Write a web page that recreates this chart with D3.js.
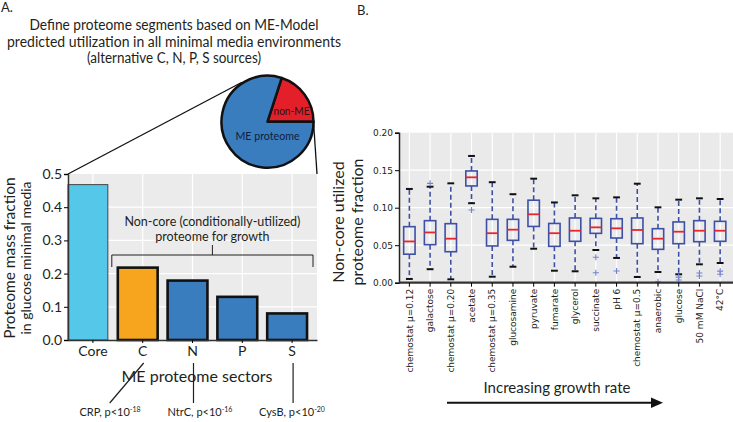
<!DOCTYPE html>
<html>
<head>
<meta charset="utf-8">
<script src="https://cdn.jsdelivr.net/npm/d3@7"></script>
<style>
body { margin: 0; background: #fff; }
svg { display: block; font-family: Lato, "Open Sans", sans-serif; }
</style>
</head>
<body>
<div id="chart"></div>
<script>
// Panel A data
var sectors = ["Core", "C", "N", "P", "S"],
	massFraction = [0.468, 0.218, 0.179, 0.130, 0.080],
	pieNames = ["non-ME", "ME proteome"],
	pieShare = [0.2, 0.8];

// Panel B data (boxplot summary)
var conditions = ["chemostat \u03bc=0.12", "galactose", "chemostat \u03bc=0.20", "acetate",
		"chemostat \u03bc=0.35", "glucosamine", "pyruvate", "fumarate", "glycerol",
		"succinate", "pH 6", "chemostat \u03bc=0.5", "anaerobic", "glucose",
		"50 mM NaCl", "42\u00b0C"],
	whiskerHigh = [0.125, 0.128, 0.1325, 0.169, 0.134, 0.118, 0.1387, 0.107, 0.1165, 0.1125, 0.1138, 0.132, 0.1005, 0.1107, 0.1125, 0.1116],
	q3 = [0.0747, 0.0827, 0.0787, 0.149, 0.0845, 0.0845, 0.110, 0.079, 0.0863, 0.0858, 0.0853, 0.0863, 0.072, 0.081, 0.0827, 0.0818],
	median = [0.055, 0.067, 0.0587, 0.1405, 0.066, 0.0707, 0.0912, 0.066, 0.0693, 0.0738, 0.0725, 0.0703, 0.0587, 0.068, 0.0693, 0.0693],
	q1 = [0.038, 0.0507, 0.0413, 0.129, 0.049, 0.0565, 0.075, 0.0485, 0.0552, 0.0658, 0.0596, 0.052, 0.0445, 0.052, 0.0547, 0.0552],
	whiskerLow = [0.005, 0.018, 0.0045, 0.106, 0.008, 0.0213, 0.0453, 0.016, 0.0152, 0.0436, 0.033, 0.0076, 0.0143, 0.0112, 0.0245, 0.0263],
	fliers = [[], [0.1325], [], [0.097], [], [], [], [], [], [0.034, 0.0133], [0.0156], [], [0.0013], [0.0075, 0.0036], [0.013, 0.009], [0.0155, 0.0112]];

var width = 733,
	height = 422,
	ink = "#231f20",
	meBlue = "#3a7dbf";

var svg = d3.select("#chart").append("svg")
	.attr("width", width)
	.attr("height", height);

// ---------- Panel A ----------
svg.append("text").attr("x", 1).attr("y", 12).attr("font-size", 13).attr("fill", ink).text("A.");

var titleLines = [
	["Define proteome segments based on ME-Model", 289],
	["predicted utilization in all minimal media environments", 334],
	["(alternative C, N, P, S sources)", 174]
];
svg.append("g").selectAll("text")
	.data(titleLines)
	.enter().append("text")
	.attr("x", 174)
	.attr("y", function(d, i) { return 30 + i * 16.7; })
	.attr("text-anchor", "middle")
	.attr("font-size", 14.5)
	.attr("fill", ink)
	.attr("textLength", function(d) { return d[1]; })
	.attr("lengthAdjust", "spacingAndGlyphs")
	.text(function(d) { return d[0]; });

var yA = d3.scaleLinear().domain([0, 0.5]).range([340, 174]);
var xA = d3.scaleBand().domain(sectors).range([68, 317]);
var barW = xA.bandwidth() * 0.8;

var gA = svg.append("g");
gA.append("rect")
	.attr("x", 68).attr("y", yA(0.5))
	.attr("width", 317 - 68).attr("height", yA(0) - yA(0.5))
	.attr("fill", "#ebebeb");

gA.selectAll("line.hgrid")
	.data([0.1, 0.2, 0.3, 0.4])
	.enter().append("line")
	.attr("class", "hgrid")
	.attr("x1", 68).attr("x2", 317)
	.attr("y1", yA).attr("y2", yA)
	.attr("stroke", "#fff").attr("stroke-width", 1.2);

gA.selectAll("line.vgrid")
	.data(sectors)
	.enter().append("line")
	.attr("class", "vgrid")
	.attr("x1", function(d) { return xA(d) + xA.bandwidth() / 2; })
	.attr("x2", function(d) { return xA(d) + xA.bandwidth() / 2; })
	.attr("y1", yA(0.5)).attr("y2", yA(0))
	.attr("stroke", "#fff").attr("stroke-width", 1.2);

var barFill = { "Core": "#55c7e8", "C": "#f7a51f" };
gA.selectAll("rect.bar")
	.data(sectors)
	.enter().append("rect")
	.attr("class", "bar")
	.attr("x", function(d) { return xA(d); })
	.attr("width", barW)
	.attr("y", function(d, i) { return yA(massFraction[i]); })
	.attr("height", function(d, i) { return yA(0) - yA(massFraction[i]); })
	.attr("fill", function(d) { return barFill[d] || meBlue; })
	.attr("stroke", function(d) { return d == "Core" ? "#444" : "#111"; })
	.attr("stroke-width", function(d) { return d == "Core" ? 1 : 2.6; });

var axA = gA.append("g")
	.attr("transform", "translate(68,0)")
	.call(d3.axisLeft(yA).tickValues([0, 0.1, 0.2, 0.3, 0.4, 0.5]).tickFormat(d3.format(".1f")).tickSize(4).tickPadding(2));
axA.selectAll("text").attr("font-size", 14).attr("font-family", "Lato").attr("fill", ink);

var axAx = gA.append("g")
	.attr("transform", "translate(0," + yA(0) + ")")
	.call(d3.axisBottom(xA).tickSize(3).tickPadding(3).tickSizeOuter(0));
axAx.selectAll("text").attr("font-size", 14).attr("font-family", "Lato").attr("fill", ink);
gA.selectAll(".domain").attr("stroke", "#333").attr("stroke-width", 1.5);

// y label
var yLabA = gA.append("text")
	.attr("transform", "translate(14.5," + 258 + ") rotate(-90)")
	.attr("text-anchor", "middle")
	.attr("fill", ink);
yLabA.append("tspan").attr("x", 0).attr("font-size", 15.5).text("Proteome mass fraction");
yLabA.append("tspan").attr("x", 0).attr("dy", 16.5).attr("font-size", 14).text("in glucose minimal media");

// bracket over non-core sectors
var brL = xA("C") - 6,
	brR = xA("S") + xA.bandwidth() - 4,
	brMid = (brL + brR) / 2;
gA.append("path")
	.attr("d", "M" + brL + ",267V255H" + brR + "V267M" + brMid + ",255V245")
	.attr("fill", "none").attr("stroke", ink).attr("stroke-width", 1);
gA.append("text").attr("x", brMid).attr("y", 226).attr("text-anchor", "middle")
	.attr("font-size", 12.5).attr("fill", ink).text("Non-core (conditionally-utilized)");
gA.append("text").attr("x", brMid).attr("y", 241).attr("text-anchor", "middle")
	.attr("font-size", 12.5).attr("fill", ink).text("proteome for growth");

gA.append("text").attr("x", 197).attr("y", 382).attr("text-anchor", "middle")
	.attr("font-size", 16).attr("fill", ink).text("ME proteome sectors");

// regulator annotations
var regs = [
	{ s: "C", name: "CRP, p<10", exp: "-18", x2: -34, tx: 110 },
	{ s: "N", name: "NtrC, p<10", exp: "-16", x2: 0, tx: 200 },
	{ s: "S", name: "CysB, p<10", exp: "-20", x2: 0, tx: 292 }
];
regs.forEach(function(r) {
	var cx = xA(r.s) + xA.bandwidth() / 2 + 1;
	gA.append("line")
		.attr("x1", cx).attr("y1", 363)
		.attr("x2", cx + r.x2).attr("y2", 403)
		.attr("stroke", ink).attr("stroke-width", 1.2);
	var t = gA.append("text").attr("x", r.tx).attr("y", 416).attr("text-anchor", "middle")
		.attr("font-size", 11).attr("fill", ink);
	t.append("tspan").text(r.name);
	t.append("tspan").attr("dy", -4).attr("font-size", 7).text(r.exp);
});

// pie
var pieCx = 267.5, pieCy = 121.7, pieR = 46;
var pie = d3.pie().sort(null)
	.startAngle(18 * Math.PI / 180)
	.endAngle(18 * Math.PI / 180 + 2 * Math.PI);
var arc = d3.arc().innerRadius(0).outerRadius(pieR);
var gPie = svg.append("g").attr("transform", "translate(" + pieCx + "," + pieCy + ")");

// zoom lines from pie to bar panel
var a0 = -33 * Math.PI / 180;
svg.insert("line", "g")
	.attr("x1", 68).attr("y1", yA(0.5))
	.attr("x2", pieCx + Math.sin(a0) * (pieR + 1)).attr("y2", pieCy - Math.cos(a0) * (pieR + 1))
	.attr("stroke", "#111").attr("stroke-width", 1.3);
svg.append("line")
	.attr("x1", pieCx + pieR).attr("y1", pieCy)
	.attr("x2", 317).attr("y2", yA(0.5))
	.attr("stroke", "#111").attr("stroke-width", 1.3);

gPie.selectAll("path")
	.data(pie(pieShare))
	.enter().append("path")
	.attr("d", arc)
	.attr("fill", function(d, i) { return i == 0 ? "#e3202a" : meBlue; })
	.attr("stroke", "#111")
	.attr("stroke-width", 2.5)
	.attr("stroke-linejoin", "round");
gPie.append("text").attr("x", 24).attr("y", -6.5).attr("text-anchor", "middle")
	.attr("font-size", 12).attr("fill", "#2a1010")
	.attr("textLength", 36).attr("lengthAdjust", "spacingAndGlyphs").text(pieNames[0]);
gPie.append("text").attr("x", 0).attr("y", 18.5).attr("text-anchor", "middle")
	.attr("font-size", 12).attr("fill", "#10203a")
	.attr("textLength", 64).attr("lengthAdjust", "spacingAndGlyphs").text(pieNames[1]);

// ---------- Panel B ----------
svg.append("text").attr("x", 357).attr("y", 15).attr("font-size", 13).attr("fill", ink).text("B.");

var yB = d3.scaleLinear().domain([0, 0.2]).range([282.7, 132.7]);
var xB = d3.scaleBand().domain(conditions).range([399, 730.5]);
var boxW = xB.step() * 0.55,
	capW = boxW * 0.6;
function cx(d) { return xB(d) + xB.bandwidth() / 2; }

var gB = svg.append("g");
gB.append("rect")
	.attr("x", 399).attr("y", yB(0.2))
	.attr("width", 733 - 399).attr("height", yB(0) - yB(0.2))
	.attr("fill", "#eaeaea");
gB.selectAll("line.hgrid")
	.data([0.05, 0.1, 0.15])
	.enter().append("line")
	.attr("x1", 399).attr("x2", 733)
	.attr("y1", yB).attr("y2", yB)
	.attr("stroke", "#fff").attr("stroke-width", 1.2);
gB.selectAll("line.vgrid")
	.data(conditions)
	.enter().append("line")
	.attr("x1", cx).attr("x2", cx)
	.attr("y1", yB(0.2)).attr("y2", yB(0))
	.attr("stroke", "#fff").attr("stroke-width", 1.2);

var boxes = gB.selectAll("g.box")
	.data(conditions)
	.enter().append("g")
	.attr("class", "box");

// whiskers
boxes.append("line")
	.attr("x1", cx).attr("x2", cx)
	.attr("y1", function(d, i) { return yB(q3[i]); })
	.attr("y2", function(d, i) { return yB(whiskerHigh[i]); })
	.attr("stroke", "#3d50a6").attr("stroke-width", 1.6).attr("stroke-dasharray", "5,3");
boxes.append("line")
	.attr("x1", cx).attr("x2", cx)
	.attr("y1", function(d, i) { return yB(q1[i]); })
	.attr("y2", function(d, i) { return yB(whiskerLow[i]); })
	.attr("stroke", "#3d50a6").attr("stroke-width", 1.6).attr("stroke-dasharray", "5,3");
// caps
[whiskerHigh, whiskerLow].forEach(function(arr) {
	boxes.append("line")
		.attr("x1", function(d) { return cx(d) - capW / 2; })
		.attr("x2", function(d) { return cx(d) + capW / 2; })
		.attr("y1", function(d, i) { return yB(arr[i]); })
		.attr("y2", function(d, i) { return yB(arr[i]); })
		.attr("stroke", "#111").attr("stroke-width", 2);
});
// box
boxes.append("rect")
	.attr("x", function(d) { return cx(d) - boxW / 2; })
	.attr("width", boxW)
	.attr("y", function(d, i) { return yB(q3[i]); })
	.attr("height", function(d, i) { return yB(q1[i]) - yB(q3[i]); })
	.attr("fill", "none")
	.attr("stroke", "#3d50a6").attr("stroke-width", 1.6);
// median
boxes.append("line")
	.attr("x1", function(d) { return cx(d) - boxW / 2; })
	.attr("x2", function(d) { return cx(d) + boxW / 2; })
	.attr("y1", function(d, i) { return yB(median[i]); })
	.attr("y2", function(d, i) { return yB(median[i]); })
	.attr("stroke", "#e8252b").attr("stroke-width", 1.8);
// fliers
boxes.each(function(d, i) {
	var g = d3.select(this);
	fliers[i].forEach(function(v) {
		g.append("path")
			.attr("d", "M" + (cx(d) - 3) + "," + yB(v) + "h6M" + cx(d) + "," + (yB(v) - 3) + "v6")
			.attr("stroke", "#7383cf").attr("stroke-width", 1.1);
	});
});

var axB = gB.append("g")
	.attr("transform", "translate(399,0)")
	.call(d3.axisLeft(yB).tickValues([0, 0.05, 0.1, 0.15, 0.2]).tickFormat(d3.format(".2f")).tickSize(4).tickPadding(2));
axB.selectAll("text").attr("font-size", 9).attr("font-family", "DejaVu Sans").attr("fill", ink);
axB.select(".domain").attr("stroke", "#222").attr("stroke-width", 1.5);

var axBx = gB.append("g")
	.attr("transform", "translate(0," + yB(0) + ")")
	.call(d3.axisBottom(xB).tickSize(4).tickSizeOuter(0));
axBx.select(".domain").attr("d", "M399,0H733").attr("stroke", "#333").attr("stroke-width", 2.2);
axBx.selectAll(".tick text")
	.attr("font-size", 9).attr("font-family", "DejaVu Sans").attr("fill", ink)
	.attr("text-anchor", "end")
	.attr("transform", "rotate(-90)")
	.attr("x", -6).attr("y", 0).attr("dy", "0.35em");

var yLabB = gB.append("text")
	.attr("transform", "translate(344,222) rotate(-90)")
	.attr("text-anchor", "middle")
	.attr("font-size", 16).attr("fill", ink);
yLabB.append("tspan").attr("x", 0).text("Non-core utilized");
yLabB.append("tspan").attr("x", 0).attr("dy", 19).text("proteome fraction");

gB.append("text").attr("x", 557).attr("y", 393).attr("text-anchor", "middle")
	.attr("font-size", 15).attr("fill", ink).text("Increasing growth rate");
gB.append("line").attr("x1", 447).attr("x2", 653).attr("y1", 402.7).attr("y2", 402.7)
	.attr("stroke", "#111").attr("stroke-width", 2);
gB.append("path").attr("d", "M651,397.5L663,402.7L651,408Z").attr("fill", "#111");
</script>
</body>
</html>
